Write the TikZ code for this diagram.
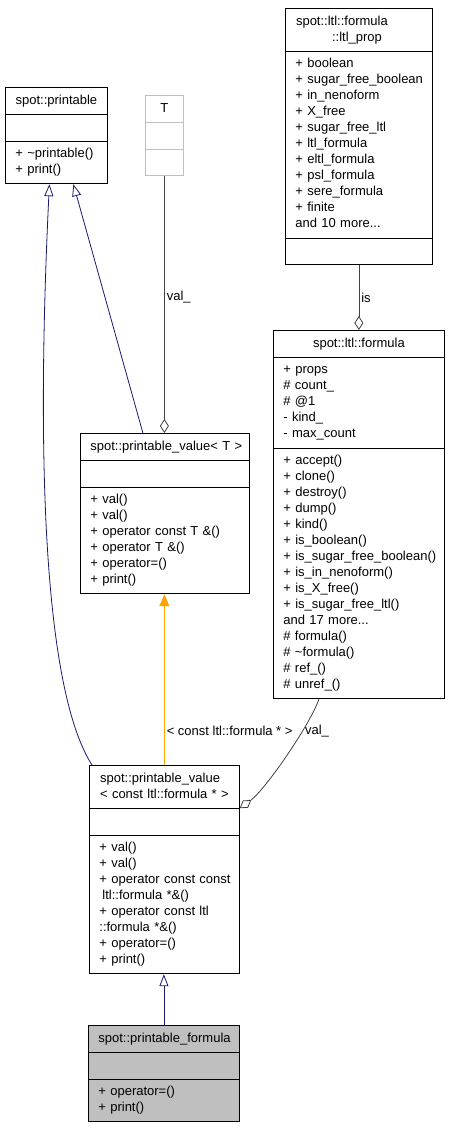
\documentclass[tikz,border=0pt]{standalone}
\usepackage{fontspec}
\setmainfont{Liberation Sans}
\usetikzlibrary{shapes.multipart,arrows.meta}
\definecolor{navy}{HTML}{191970}
\definecolor{edgegray}{HTML}{404040}
\definecolor{boxgray}{HTML}{BFBFBF}
\definecolor{tmplorange}{HTML}{FFA500}
\newcommand{\members}[1]{\begin{tabular}{@{}l@{}}#1\end{tabular}}
\newcommand{\classname}[1]{\centering\members{#1}\par}

\begin{document}
\begin{tikzpicture}[x=1pt, y=-1pt, line width=0.8pt,
	font=\fontsize{13}{16}\selectfont,
	umlclass/.style={rectangle split, rectangle split parts=3, draw, anchor=north west,
		inner xsep=10pt, inner ysep=5pt, align=left},
	inherit/.style={navy, -{Triangle[open, length=12pt, width=9pt]}},
	member/.style={edgegray, {Diamond[open, length=14pt, width=9pt]}-},
	instance/.style={tmplorange, -{Triangle[length=12pt, width=10pt]}},
	edgelabel/.style={right, inner sep=2pt, text=black}]
	\useasboundingbox (0,0) rectangle (449,1128);

	\node [umlclass, text width=82pt] (printable) at (5,87) {\classname{spot::printable}
		\nodepart{two}\strut
		\nodepart{three}\members{+ \textasciitilde printable()\\+ print()}};
	\node [umlclass, draw=boxgray, text width=18pt] (T) at (145,95) {\classname{T}
		\nodepart{two}\strut
		\nodepart{three}\strut};
	\node [umlclass, text width=127pt] (ltlprop) at (285,8) {\classname{spot::ltl::formula\hspace*{34pt}\\\hspace*{36pt}::ltl\_prop}
		\nodepart{two}\members{+ boolean\\+ sugar\_free\_boolean\\+ in\_nenoform\\+ X\_free\\+ sugar\_free\_ltl\\+ ltl\_formula\\+ eltl\_formula\\+ psl\_formula\\+ sere\_formula\\+ finite\\and 10 more...}
		\nodepart{three}\strut};
	\node [umlclass, text width=151pt] (formula) at (273,330) {\classname{spot::ltl::formula}
		\nodepart{two}\members{+ props\\\# count\_\\\# @1\\- kind\_\\- max\_count}
		\nodepart{three}\members{+ accept()\\+ clone()\\+ destroy()\\+ dump()\\+ kind()\\+ is\_boolean()\\+ is\_sugar\_free\_boolean()\\+ is\_in\_nenoform()\\+ is\_X\_free()\\+ is\_sugar\_free\_ltl()\\and 17 more...\\\# formula()\\\# \textasciitilde formula()\\\# ref\_()\\\# unref\_()}};
	\node [umlclass, text width=149pt] (pvT) at (80,433) {\classname{spot::printable\_value< T >}
		\nodepart{two}\strut
		\nodepart{three}\members{+ val()\\+ val()\\+ operator const T \&()\\+ operator T \&()\\+ operator=()\\+ print()}};
	\node [umlclass, text width=130pt] (pvc) at (89,765) {\classname{spot::printable\_value\\< const ltl::formula * >}
		\nodepart{two}\strut
		\nodepart{three}\members{+ val()\\+ val()\\+ operator const const\\\hspace*{3pt}ltl::formula *\&()\\+ operator const ltl\\::formula *\&()\\+ operator=()\\+ print()}};
	\node [umlclass, fill=boxgray, text width=131pt] (pf) at (88,1025) {\classname{spot::printable\_formula}
		\nodepart{two}\strut
		\nodepart{three}\members{+ operator=()\\+ print()}};

	\draw [inherit] ([xshift=3pt]pvc.north west) .. controls (44,690) and (36,460) .. ([xshift=-7pt]printable.south);
	\draw [inherit] ([xshift=-22pt]pvT.north) -- ([xshift=17pt]printable.south);
	\draw [member] (T.south |- pvT.north) -- (T.south) node [edgelabel, pos=0.53] {val\_};
	\draw [member] (formula.north) -- (ltlprop.south) node [edgelabel, pos=0.5] {is};
	\draw [instance] (pvc.north) -- (pvc.north |- pvT.south) node [edgelabel, pos=0.2] {< const ltl::formula * >};
	\draw [member] (pvc.text split east) .. controls (265,790) and (310,725) .. ([xshift=-40pt]formula.south) node [edgelabel, pos=0.7] {val\_};
	\draw [inherit] (pf.north) -- (pf.north |- pvc.south);
\end{tikzpicture}
\end{document}
